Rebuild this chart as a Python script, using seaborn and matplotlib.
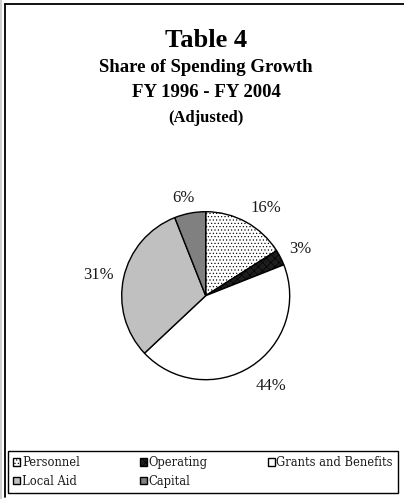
import matplotlib
matplotlib.use("Agg")
import numpy as np
import matplotlib.pyplot as plt
from matplotlib.lines import Line2D
import seaborn as sns

# Spending growth shares by category, FY 1996 - FY 2004 (adjusted)
categories = ["Personnel", "Operating", "Grants and Benefits", "Local Aid", "Capital"]
shares = [16, 3, 44, 31, 6]
fills = ["white", "#1e1e1e", "white", "#c0c0c0", "#808080"]
hatches = [".....", "xxxx", "", "", ""]

title = "Table 4"
subtitle_lines = ["Share of Spending Growth", "FY 1996 - FY 2004", "(Adjusted)"]

sns.set_theme(style="white")
plt.rcParams["font.family"] = ["Liberation Serif", "DejaVu Serif"]
plt.rcParams["text.color"] = "black"
plt.rcParams["hatch.linewidth"] = 0.45

W, H = 404, 499
fig = plt.figure(figsize=(W / 100, H / 100), dpi=100)
fig.patch.set_facecolor("white")

def fx(px):
    return px / W

def fy(py):
    return 1 - py / H

# square axes holding the pie (radius ~84 px, centre ~(206, 296))
cx, cy, r = 205.7, 295.7, 84
ax = fig.add_axes([fx(cx - r), fy(cy + r), 2 * r / W, 2 * r / H])
wedges, texts, autotexts = ax.pie(
    shares,
    colors=fills,
    startangle=90,
    counterclock=False,
    autopct=lambda p: f"{p:.0f}%",
    pctdistance=1.25,
    wedgeprops=dict(edgecolor="black", linewidth=1.0),
    textprops=dict(fontsize=12, color="#1a1a1a"),
)
for w, h in zip(wedges, hatches):
    if h:
        w.set_hatch(h)
ax.set_xlim(-1, 1)
ax.set_ylim(-1, 1)
ax.set_aspect("auto")
ax.axis("off")

# place each percentage just outside the rim, offset by its own half-size
fig.canvas.draw()
renderer = fig.canvas.get_renderer()
gap = 10 / r
for w, t in zip(wedges, autotexts):
    ang = np.deg2rad((w.theta1 + w.theta2) / 2)
    c, s = np.cos(ang), np.sin(ang)
    bb = t.get_window_extent(renderer)
    hw, hh = bb.width / 2 / r, bb.height / 2 / r
    x = c * (1 + gap) + hw * np.clip(2 * c, -1, 1)
    y = s * (1 + gap) + hh * np.clip(2 * s, -1, 1) - 3 / r
    t.set_position((x, y))

# titles
fig.text(fx(206), fy(47), title, ha="center", va="baseline",
         fontsize=19, fontweight="bold")
for line, base, size in zip(subtitle_lines, [72.5, 97, 122], [13.5, 13.5, 12]):
    fig.text(fx(206), fy(base), line, ha="center", va="baseline",
             fontsize=size, fontweight="bold")

# legend: rows Personnel / Operating / Grants, then Local Aid / Capital
order = [0, 3, 1, 4, 2]
leg = fig.legend(
    [wedges[i] for i in order],
    [categories[i] for i in order],
    ncol=3,
    loc="lower left",
    bbox_to_anchor=(fx(8), fy(493), (398 - 8) / W, (493 - 452) / H),
    mode="expand",
    prop=dict(family="DejaVu Serif", size=8.3),
    handlelength=0.6,
    handleheight=0.6,
    handletextpad=0.15,
    borderpad=0.45,
    labelspacing=0.5,
    borderaxespad=0,
    fancybox=False,
    frameon=True,
)
leg.get_frame().set_edgecolor("black")
leg.get_frame().set_linewidth(1.0)
leg.get_frame().set_alpha(1)
for txt in leg.get_texts():
    txt.set_color("#1a1a1a")

# page frame: top and left rules
fig.add_artist(Line2D([fx(5), 1], [fy(3.5), fy(3.5)], color="black", linewidth=1.3,
                      transform=fig.transFigure))
fig.add_artist(Line2D([fx(5), fx(5)], [fy(3.5), fy(497)], color="black", linewidth=1.3,
                      transform=fig.transFigure))
fig.add_artist(Line2D([fx(0.8), fx(0.8)], [1, 0], color="#c8c8c8", linewidth=1.2,
                      transform=fig.transFigure))

fig.savefig("out.png", dpi=100, facecolor="white")
